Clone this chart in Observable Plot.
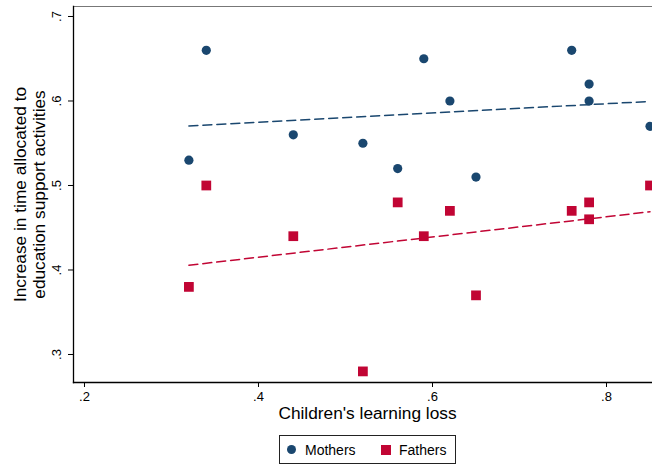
<!DOCTYPE html>
<html>
<head>
<meta charset="utf-8">
<script src="https://cdn.jsdelivr.net/npm/d3@7"></script>
<script src="https://cdn.jsdelivr.net/npm/@observablehq/plot@0.6"></script>
<style>
  html, body { margin: 0; padding: 0; background: #fff; }
  body { width: 652px; height: 465px; overflow: hidden; position: relative; font-family: "Liberation Sans", Arial, sans-serif; }
  #legend { position: absolute; left: 279px; top: 435px; width: 175px; height: 27px; border: 1px solid #222; box-sizing: content-box; }
  #legend span { position: absolute; font-size: 14px; line-height: 14px; top: 7px; color: #000; }
  #legend i { position: absolute; display: block; }
</style>
</head>
<body>
<div id="chart"></div>
<div id="legend">
  <i style="left:7px;top:9px;width:9px;height:9px;border-radius:50%;background:#1a476f"></i><span style="left:25px">Mothers</span>
  <i style="left:101px;top:9px;width:10px;height:10px;background:#c10534"></i><span style="left:119px">Fathers</span>
</div>
<script>
const lossX    = [0.32, 0.34, 0.44, 0.52, 0.56, 0.59, 0.62, 0.65, 0.76, 0.78, 0.78, 0.85];
const mothersY = [0.53, 0.66, 0.56, 0.55, 0.52, 0.65, 0.60, 0.51, 0.66, 0.62, 0.60, 0.57];
const fathersY = [0.38, 0.50, 0.44, 0.28, 0.48, 0.44, 0.47, 0.37, 0.47, 0.48, 0.46, 0.50];
const xTicks = [0.2, 0.4, 0.6, 0.8];
const yTicks = [0.3, 0.4, 0.5, 0.6, 0.7];
const xTitle = "Children's learning loss";
const yTitle = "Increase in time allocated to\neducation support activities";

const navy = "#1a476f", red = "#c10534";
const mothers = lossX.map((x, i) => ({x, y: mothersY[i]}));
const fathers = lossX.map((x, i) => ({x, y: fathersY[i]}));
const fmt = d => d3.format(".1f")(d).replace(/^0/, "");

const chart = Plot.plot({
  width: 652, height: 425,
  marginLeft: 73, marginRight: 0, marginTop: 6, marginBottom: 43,
  x: {domain: [0.18736, 0.85287]},
  y: {domain: [0.26686, 0.71183]},
  style: {fontFamily: "'Liberation Sans', Arial, sans-serif", fontSize: "13px", color: "#000", background: "#fff", overflow: "hidden"},
  marks: [
    Plot.frame({anchor: "top", stroke: "#777", strokeWidth: 1}),
    Plot.dot(mothers, {x: "x", y: "y", r: 4.6, fill: navy, stroke: "none"}),
    Plot.dot(fathers, {x: "x", y: "y", r: 5.5, symbol: "square", fill: red, stroke: "none"}),
    Plot.linearRegressionY(mothers, {x: "x", y: "y", ci: 0, stroke: navy, strokeWidth: 1.5, strokeDasharray: "9,5"}),
    Plot.linearRegressionY(fathers, {x: "x", y: "y", ci: 0, stroke: red, strokeWidth: 1.5, strokeDasharray: "9,5"}),
    Plot.frame({anchor: "left", stroke: "#000", strokeWidth: 1.3}),
    Plot.frame({anchor: "bottom", stroke: "#000", strokeWidth: 1.3}),
    Plot.axisX({ticks: xTicks, tickSize: 5, tickPadding: 4, tickFormat: fmt, label: null, fontSize: 13}),
    Plot.axisY({ticks: yTicks, tickSize: 5, tickPadding: 8, tickRotate: -90, tickFormat: fmt, label: null, fontSize: 13}),
    Plot.text([xTitle], {text: d => d, frameAnchor: "bottom", dy: 31, dx: 4.5, lineAnchor: "middle", textAnchor: "middle", fontSize: 17.3}),
    Plot.text([yTitle], {text: d => d, frameAnchor: "left", dx: -44.5, rotate: -90, lineAnchor: "middle", textAnchor: "middle", lineHeight: 1.1, fontSize: 17.3})
  ]
});
document.getElementById("chart").appendChild(chart);
</script>
</body>
</html>
